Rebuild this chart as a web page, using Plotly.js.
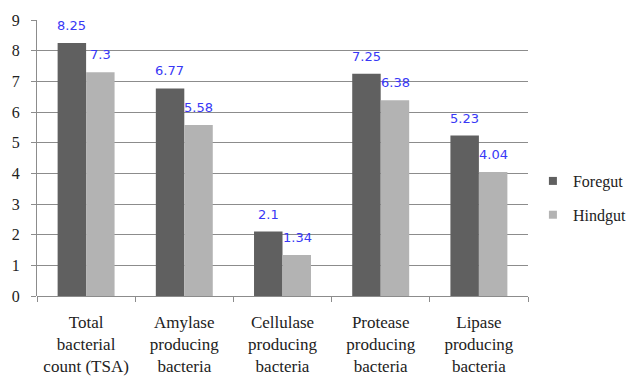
<!DOCTYPE html>
<html>
<head>
<meta charset="utf-8">
<script src="https://cdn.plot.ly/plotly-3.0.1.min.js"></script>
<style>
html,body{margin:0;padding:0;background:#fff;}
#chart{width:631px;height:376px;}
.fontwarm{position:absolute;left:0;top:0;opacity:0;font-size:10px;pointer-events:none;}
</style>
</head>
<body>
<div class="fontwarm" style="font-family:'Liberation Serif'">Foregut Hindgut 0123456789</div>
<div class="fontwarm" style="font-family:'DejaVu Sans'">0123456789.</div>
<div id="chart"></div>
<script>
const categories = [
  "Total<br>bacterial<br>count (TSA)",
  "Amylase<br>producing<br>bacteria",
  "Cellulase<br>producing<br>bacteria",
  "Protease<br>producing<br>bacteria",
  "Lipase<br>producing<br>bacteria"
];
const seriesNames = ["Foregut", "Hindgut"];
const foregut = [8.25, 6.77, 2.1, 7.25, 5.23];
const hindgut = [7.3, 5.58, 1.34, 6.38, 4.04];
const foregutLabels = ["8.25", "6.77", "2.1", "7.25", "5.23"];
const hindgutLabels = ["7.3", "5.58", "1.34", "6.38", "4.04"];
const colors = ['#606060', '#b3b3b3'];

const traces = [
  {type: 'bar', name: seriesNames[0], x: categories, y: foregut, marker: {color: colors[0]}, showlegend: false, hoverinfo: 'none'},
  {type: 'bar', name: seriesNames[1], x: categories, y: hindgut, marker: {color: colors[1]}, showlegend: false, hoverinfo: 'none'},
  {type: 'scatter', mode: 'markers', name: seriesNames[0], x: [null], y: [null], marker: {symbol: 'square', size: 8, color: colors[0]}, legendgroup: 'a'},
  {type: 'scatter', mode: 'markers', name: seriesNames[1], x: [null], y: [null], marker: {symbol: 'square', size: 8, color: colors[1]}, legendgroup: 'b'}
];

const annFont = {family: 'DejaVu Sans', size: 13, color: '#3838f5'};
const annotations = [];
categories.forEach((c, i) => {
  annotations.push({x: c, y: foregut[i], text: foregutLabels[i], showarrow: false, xshift: -14.5, yshift: 8, yanchor: 'bottom', font: annFont});
  annotations.push({x: c, y: hindgut[i], text: hindgutLabels[i], showarrow: false, xshift: 14.5, yshift: 8, yanchor: 'bottom', font: annFont});
});

const serif = 'Liberation Serif';
const layout = {
  width: 631, height: 376,
  margin: {l: 37, r: 103, t: 20, b: 80, autoexpand: false},
  paper_bgcolor: '#ffffff', plot_bgcolor: '#ffffff',
  barmode: 'group', bargap: 0.42, bargroupgap: 0,
  showlegend: true,
  legend: {x: 1.01, xanchor: 'left', y: 0.355, yanchor: 'middle', font: {family: serif, size: 16, color: '#222'}, tracegroupgap: 10, traceorder: 'grouped', itemwidth: 30, itemsizing: 'trace'},
  xaxis: {
    type: 'category', showgrid: false, zeroline: false,
    showline: false, ticks: 'outside', ticklen: 5, tickcolor: '#8c8c8c', tickson: 'boundaries',
    ticklabelstandoff: 14,
    tickfont: {family: serif, size: 17, color: '#222'}
  },
  yaxis: {
    range: [0, 9], dtick: 1, showgrid: true, gridcolor: '#8c8c8c', gridwidth: 1,
    zeroline: true, zerolinecolor: '#8c8c8c', zerolinewidth: 1,
    showline: true, linecolor: '#8c8c8c', linewidth: 1,
    ticks: 'outside', ticklen: 5, tickcolor: '#8c8c8c',
    ticklabelstandoff: 8,
    tickfont: {family: serif, size: 16, color: '#222'}
  },
  annotations: annotations
};
Plotly.newPlot('chart', traces, layout, {displayModeBar: false, staticPlot: true});
</script>
</body>
</html>
